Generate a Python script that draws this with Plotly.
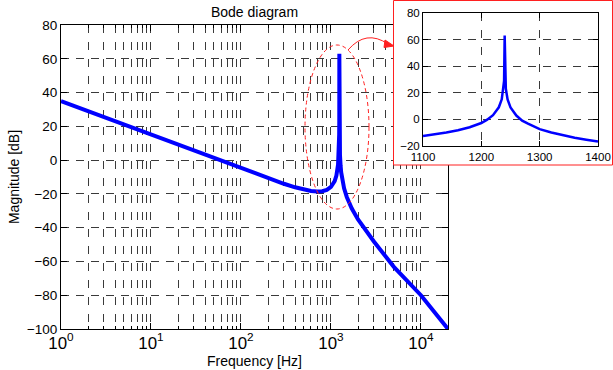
import plotly.graph_objects as go

# ---------------- data ----------------
freq_hz = [1, 10, 50, 100, 200, 300, 400, 500, 600, 700, 800, 900, 1000,
           1100, 1150, 1200, 1220, 1230, 1235, 1238, 1240, 1242, 1245, 1250,
           1260, 1280, 1300, 1400, 1500, 1700, 2000, 3000, 5000, 10000, 20000]
mag_db = [35, 15, 1.0, -4.9, -10.8, -14.0, -16.1, -17.4, -18.3, -18.6, -18.4, -17.6, -15.9,
          -12.4, -9.1, -2.7, 3.2, 9.1, 15.1, 23, 63, 23, 15, 9,
          2.9, -3.2, -7.3, -16.7, -21.8, -28.5, -35.1, -48.2, -63.2, -80.0, -100]

zoom_freq_hz = [1100, 1120, 1140, 1160, 1180, 1200, 1210, 1220, 1230, 1235, 1238, 1239,
                1240, 1241, 1242, 1245, 1250, 1260, 1270, 1280, 1300, 1320, 1340,
                1360, 1380, 1400]
zoom_mag_db = [-12.4, -11.3, -9.9, -8.2, -5.9, -2.7, -0.2, 3.2, 9.1, 15.1, 23, 29,
               63, 29, 23, 15, 9, 2.9, -0.9, -3.2, -7.3, -9.9, -12.0,
               -13.8, -15.3, -16.7]

x_label_alias = {"1": "10<sup>0</sup>", "10": "10<sup>1</sup>"}
y_ticks = [-100, -80, -60, -40, -20, 0, 20, 40, 60, 80]
zoom_x_ticks = [1100, 1200, 1300, 1400]
zoom_y_ticks = [-20, 0, 20, 40, 60, 80]

title_text = "Bode diagram"
x_title = "Frequency [Hz]"
y_title = "Magnitude [dB]"

# ---------------- layout helpers ----------------
W, H = 613, 370
def px(x):
    return x / W
def py(y):
    return 1 - y / H

FONT = "Liberation Sans, Arial, Helvetica, sans-serif"
BLUE = "#0000ff"
GRIDCOL = "#3a3a3a"
XGRID = dict(showgrid=True, gridcolor=GRIDCOL, gridwidth=1, griddash="8px,9px")
YGRID = dict(showgrid=True, gridcolor=GRIDCOL, gridwidth=1, griddash="8px,7px")

fig = go.Figure()
fig.add_trace(go.Scatter(x=freq_hz, y=mag_db, mode="lines",
                         line=dict(color=BLUE, width=4), xaxis="x", yaxis="y",
                         showlegend=False, hoverinfo="skip"))
# white cover subplot for the inset box
fig.add_trace(go.Scatter(x=[0], y=[0], mode="markers", marker=dict(opacity=0),
                         xaxis="x2", yaxis="y2", showlegend=False, hoverinfo="skip"))
fig.add_trace(go.Scatter(x=zoom_freq_hz, y=zoom_mag_db, mode="lines",
                         line=dict(color=BLUE, width=2.5), xaxis="x3", yaxis="y3",
                         showlegend=False, hoverinfo="skip"))

def axis_common(size):
    return dict(showline=True, linecolor="black", linewidth=1, mirror="ticks",
                ticks="inside", tickcolor="black", zeroline=False, automargin=False,
                tickfont=dict(family=FONT, size=size, color="black"))

fig.update_layout(
    width=W, height=H,
    margin=dict(l=0, r=0, t=0, b=0),
    paper_bgcolor="white", plot_bgcolor="white",
    showlegend=False,
    title=dict(text=title_text, x=px(254.5), y=py(12), xref="paper", yref="paper",
               xanchor="center", yanchor="middle",
               font=dict(family=FONT, size=14, color="black")),
    xaxis=dict(type="log", range=[0, 4.30103], domain=[px(61), px(448)], anchor="y",
               tickmode="linear", tick0=0, dtick=1, exponentformat="power",
               labelalias=x_label_alias, ticklen=6, ticklabelstandoff=-1,
               minor=dict(dtick="D1", ticks="inside", ticklen=3, tickcolor="black",
                          showgrid=True, gridcolor=GRIDCOL, gridwidth=1, griddash="8px,9px"),
               title=dict(text=x_title, standoff=0,
                          font=dict(family=FONT, size=14, color="black")),
               **XGRID, **axis_common(13.5)),
    yaxis=dict(range=[-100, 80], domain=[py(329), py(25)], anchor="x",
               tickmode="array", tickvals=y_ticks, ticklen=6,
               title=dict(text=y_title, standoff=3,
                          font=dict(family=FONT, size=14, color="black")),
               **YGRID, **axis_common(13.5)),
    xaxis2=dict(domain=[px(393), px(613)], anchor="y2", visible=False, range=[0, 1],
                showgrid=False, zeroline=False),
    yaxis2=dict(domain=[py(165), py(0)], anchor="x2", visible=False, range=[0, 1],
                showgrid=False, zeroline=False),
    xaxis3=dict(range=[1100, 1400], domain=[px(423), px(598)], anchor="y3",
                tickmode="array", tickvals=zoom_x_ticks, ticklen=5,
                **XGRID, **axis_common(11.5)),
    yaxis3=dict(range=[-20, 80], domain=[py(146), py(13)], anchor="x3",
                tickmode="array", tickvals=zoom_y_ticks, ticklen=5,
                **YGRID, **axis_common(11.5)),
)

RED = "#ff2020"
# inset border
fig.add_shape(type="rect", xref="paper", yref="paper",
              x0=px(393.5), x1=px(612.5), y0=py(165), y1=py(0.5),
              line=dict(color=RED, width=1), fillcolor="rgba(0,0,0,0)", layer="above")
# dashed ellipse around resonance
fig.add_shape(type="circle", xref="paper", yref="paper",
              x0=px(305), x1=px(369), y0=py(209), y1=py(45),
              line=dict(color=RED, width=1, dash="4px,3px"), layer="above")
# curved arrow
fig.add_shape(type="path", xref="paper", yref="paper",
              path=f"M {px(348)},{py(50)} Q {px(366)},{py(29)} {px(388)},{py(44)}",
              line=dict(color=RED, width=1), layer="above")
fig.add_shape(type="path", xref="paper", yref="paper",
              path=f"M {px(394)},{py(46)} L {px(385)},{py(40)} L {px(384)},{py(47.5)} Z",
              line=dict(color=RED, width=1), fillcolor=RED, layer="above")

fig.write_html("out.html", config={"displayModeBar": False},
               post_script="document.body.style.margin='0';")
